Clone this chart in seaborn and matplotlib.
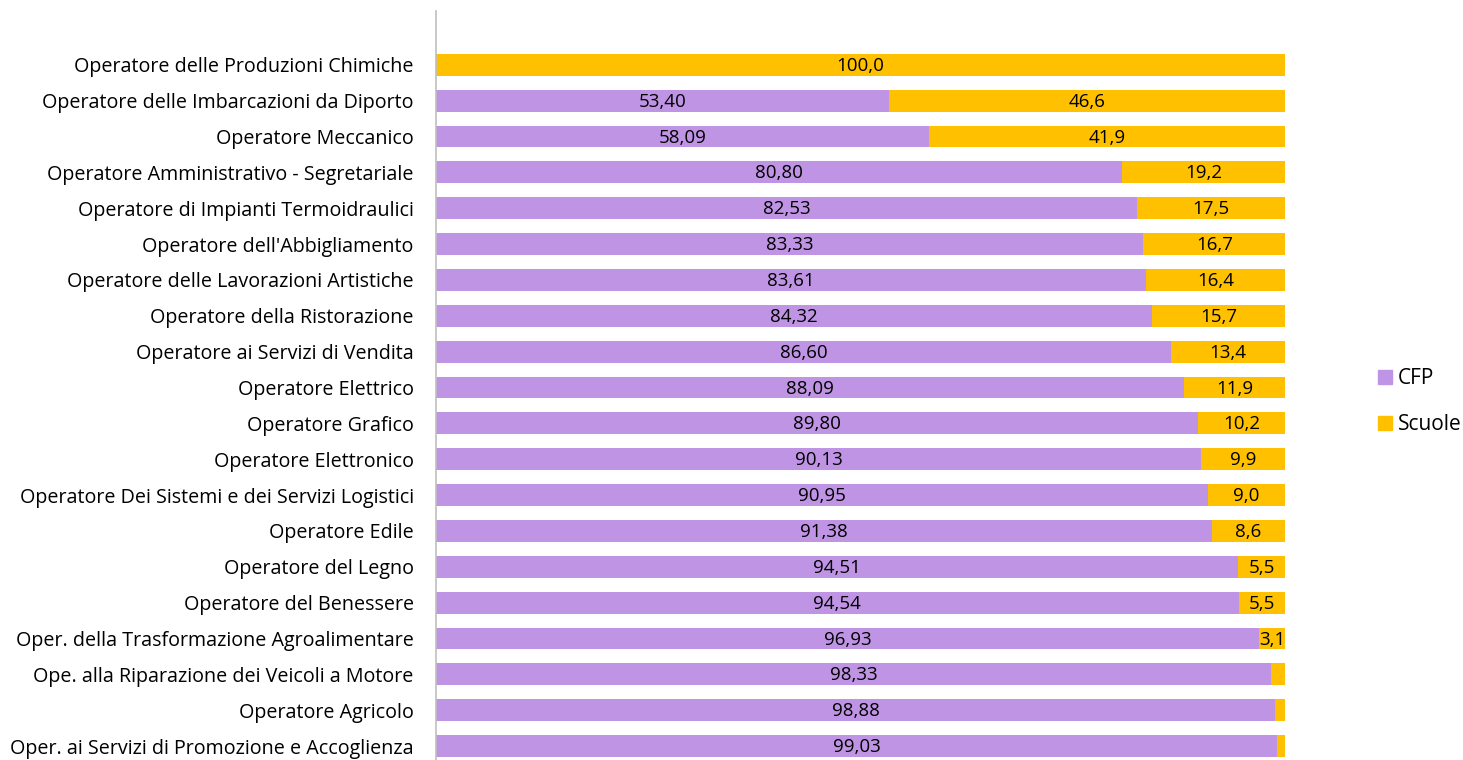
import matplotlib
matplotlib.use("Agg")
import matplotlib.pyplot as plt
import matplotlib.patches as mpatches
import seaborn as sns
import pandas as pd

categories = [
    "Operatore delle Produzioni Chimiche",
    "Operatore delle Imbarcazioni da Diporto",
    "Operatore Meccanico",
    "Operatore Amministrativo - Segretariale",
    "Operatore di Impianti Termoidraulici",
    "Operatore dell'Abbigliamento",
    "Operatore delle Lavorazioni Artistiche",
    "Operatore della Ristorazione",
    "Operatore ai Servizi di Vendita",
    "Operatore Elettrico",
    "Operatore Grafico",
    "Operatore Elettronico",
    "Operatore Dei Sistemi e dei Servizi Logistici",
    "Operatore Edile",
    "Operatore del Legno",
    "Operatore del Benessere",
    "Oper. della Trasformazione Agroalimentare",
    "Ope. alla Riparazione dei Veicoli a Motore",
    "Operatore Agricolo",
    "Oper. ai Servizi di Promozione e Accoglienza",
]
cfp = [0.0, 53.40, 58.09, 80.80, 82.53, 83.33, 83.61, 84.32, 86.60, 88.09,
       89.80, 90.13, 90.95, 91.38, 94.51, 94.54, 96.93, 98.33, 98.88, 99.03]
scuole = [100.0, 46.6, 41.9, 19.2, 17.5, 16.7, 16.4, 15.7, 13.4, 11.9,
          10.2, 9.9, 9.0, 8.6, 5.5, 5.5, 3.1, 1.7, 1.1, 1.0]

PURPLE = "#BF94E4"
YELLOW = "#FFC000"
FONT = ["Open Sans", "DejaVu Sans"]

sns.set_style("white")
plt.rcParams["font.family"] = FONT
plt.rcParams["text.color"] = "black"

df = pd.DataFrame({"cat": categories, "cfp": cfp, "scuole": scuole})
df["total"] = df["cfp"] + df["scuole"]

fig = plt.figure(figsize=(14.63, 7.6), dpi=100)
ax = fig.add_axes([436 / 1463, 0.0, (1285 - 436) / 1463, 1 - 11 / 760])

sns.barplot(data=df, y="cat", x="total", color=YELLOW, width=0.61,
            orient="h", ax=ax, saturation=1, order=categories, linewidth=0)
sns.barplot(data=df, y="cat", x="cfp", color=PURPLE, width=0.61,
            orient="h", ax=ax, saturation=1, order=categories, linewidth=0)

for i, (c, s) in enumerate(zip(cfp, scuole)):
    if c > 0:
        ax.text(c / 2, i + 0.03, f"{c:.2f}".replace(".", ","), ha="center",
                va="center", fontsize=13.5, color="black")
    if s >= 2:
        ax.text(c + s / 2, i + 0.03, f"{s:.1f}".replace(".", ","), ha="center",
                va="center", fontsize=13.5, color="black")

ax.set_xlim(0, 100)
ax.set_ylim(19.39, -1.5)
ax.set_xlabel("")
ax.set_ylabel("")
ax.set_xticks([])
ax.tick_params(axis="y", length=0, pad=16, labelsize=14.2, labelcolor="black")
for sp in ["top", "right", "bottom"]:
    ax.spines[sp].set_visible(False)
ax.spines["left"].set_color("#BFBFBF")
ax.spines["left"].set_linewidth(1.2)

handles = [mpatches.Patch(color=PURPLE, label="CFP"),
           mpatches.Patch(color=YELLOW, label="Scuole")]
leg = fig.legend(handles=handles, loc="center left",
                 bbox_to_anchor=(1368 / 1463, 1 - 402 / 760), frameon=False,
                 fontsize=15, handlelength=0.65, handleheight=0.65,
                 handletextpad=0.3, labelspacing=1.2, borderpad=0)
for t in leg.get_texts():
    t.set_color("black")

fig.savefig("out.png", dpi=100)
